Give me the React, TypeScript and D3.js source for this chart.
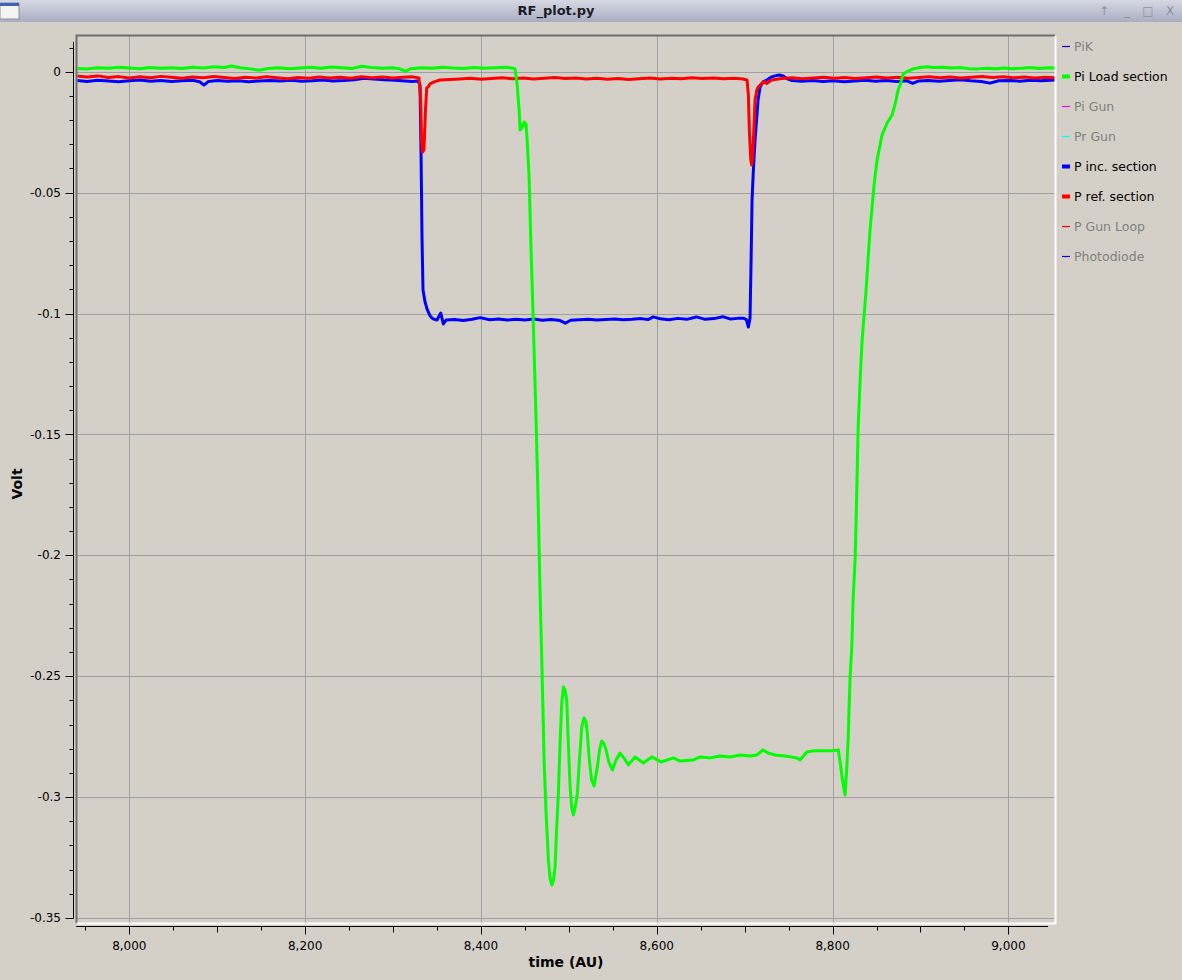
import React from "react";
import * as d3 from "d3";

// ---------- data (time in AU, value in Volt) ----------
const piLoadSection: [number, number][] = [
  [7941, 0.0014], [7952, 0.0012], [7964, 0.0017], [7976, 0.0015], [7988, 0.0019], [8000, 0.0016],
  [8012, 0.0013], [8024, 0.0018], [8036, 0.0015], [8048, 0.0017], [8060, 0.0014], [8072, 0.0019],
  [8084, 0.0016], [8096, 0.0021], [8108, 0.0018], [8116, 0.0024], [8126, 0.0017], [8138, 0.0012],
  [8148, 0.0006], [8158, 0.0014], [8170, 0.0017], [8182, 0.0013], [8194, 0.0016], [8206, 0.0019],
  [8218, 0.0015], [8230, 0.002], [8242, 0.0017], [8254, 0.0014], [8264, 0.0023], [8276, 0.0018],
  [8288, 0.0015], [8300, 0.0017], [8308, 0.0012], [8314, 0.0002], [8320, 0.0013], [8332, 0.0017],
  [8344, 0.0015], [8356, 0.0019], [8368, 0.0016], [8380, 0.0014], [8392, 0.0018], [8404, 0.0015],
  [8416, 0.0017], [8428, 0.0019], [8436, 0.0015],
  [8438.8, 0.0012], [8441.1, -0.005], [8443.4, -0.0158], [8444.5, -0.0241], [8446.8, -0.0232],
  [8449.1, -0.0208], [8451.3, -0.0216], [8452.5, -0.0282], [8454.7, -0.0427], [8457.0, -0.0737],
  [8459.3, -0.1006], [8462.7, -0.144], [8465.0, -0.1771], [8467.2, -0.2144], [8469.2, -0.2433],
  [8471.0, -0.271], [8471.8, -0.2847], [8474.1, -0.3066], [8476.7, -0.326], [8478.6, -0.3335],
  [8480.6, -0.3364], [8482.6, -0.3343], [8484.3, -0.3289], [8486.2, -0.3124], [8488.1, -0.2983],
  [8490.0, -0.2776], [8491.9, -0.2611], [8493.8, -0.2545], [8495.7, -0.2557], [8497.6, -0.2598],
  [8499.4, -0.2776], [8501.4, -0.2958], [8503.3, -0.3045], [8505.1, -0.3074], [8507.1, -0.3045],
  [8509.7, -0.2983], [8512.0, -0.2847], [8514.7, -0.271], [8517.3, -0.2673], [8519.6, -0.269],
  [8521.0, -0.2735], [8523.3, -0.2847], [8525.8, -0.2929], [8528.7, -0.2954], [8532.4, -0.2876],
  [8534.9, -0.2805], [8537.4, -0.2768], [8540.1, -0.278], [8542.3, -0.2805], [8545.7, -0.2859],
  [8549.5, -0.2888], [8553.7, -0.2847], [8558.2, -0.2818], [8562.8, -0.2839], [8567.7, -0.2867],
  [8575.3, -0.2834], [8584.8, -0.2859], [8594.3, -0.2834], [8604.9, -0.2855], [8618.9, -0.2838],
  [8626.5, -0.2851], [8641.3, -0.2847], [8649.3, -0.2834], [8660.6, -0.2838], [8672.0, -0.283],
  [8683.4, -0.2834], [8694.8, -0.2826], [8706.1, -0.283], [8714.1, -0.2826], [8720.9, -0.2805],
  [8726.6, -0.2818], [8734.6, -0.2826], [8746.0, -0.283], [8759.3, -0.2838], [8763.0, -0.2847],
  [8770.7, -0.2814], [8777.8, -0.2809], [8785.8, -0.2809], [8797.2, -0.2809], [8806.6, -0.2805],
  [8809.3, -0.2875], [8811.2, -0.2929], [8814.2, -0.2991], [8816.2, -0.2875], [8818.0, -0.2735],
  [8818.8, -0.2627], [8819.9, -0.2503], [8821.9, -0.2379], [8823.3, -0.2185], [8825.6, -0.2019],
  [8827.3, -0.1771], [8829.0, -0.1482], [8831.3, -0.1275], [8833.6, -0.1109], [8838.1, -0.0903],
  [8842.6, -0.0654], [8847.2, -0.0468], [8850.6, -0.0365], [8856.3, -0.0261], [8862.0, -0.0212],
  [8867.7, -0.0179], [8872.2, -0.0117], [8874.5, -0.0075], [8876.8, -0.0055], [8880.2, -0.0009],
  [8885.9, 0.0003], [8891.6, 0.0012], [8899.5, 0.0018],
  [8907, 0.0021], [8915, 0.0018], [8925, 0.0019], [8935, 0.0016], [8945, 0.0018], [8955, 0.0013],
  [8965, 0.0012], [8975, 0.0015], [8985, 0.0013], [8995, 0.0016], [9005, 0.0013], [9015, 0.0015],
  [9025, 0.0018], [9035, 0.0014], [9045, 0.0017], [9053, 0.0016],
];

const pIncSection: [number, number][] = [
  [7941, -0.0036], [7952, -0.004], [7964, -0.0035], [7976, -0.0038], [7988, -0.0041], [8000, -0.0037],
  [8012, -0.0034], [8024, -0.0039], [8036, -0.0036], [8048, -0.004], [8060, -0.0037], [8072, -0.0035],
  [8080, -0.0041], [8085, -0.0055], [8090, -0.004], [8100, -0.0036], [8112, -0.0039], [8124, -0.0037],
  [8136, -0.0041], [8148, -0.0038], [8160, -0.0036], [8172, -0.0038], [8184, -0.0035], [8196, -0.0039],
  [8208, -0.0037], [8220, -0.0034], [8232, -0.0038], [8244, -0.0036], [8256, -0.0033], [8267, -0.0027],
  [8278, -0.003], [8290, -0.0033], [8302, -0.0035], [8314, -0.0038], [8322, -0.004],
  [8328.4, -0.0038], [8330.7, -0.0055], [8331.8, -0.0324], [8333.0, -0.0696], [8334.1, -0.0903],
  [8336.4, -0.0952], [8338.6, -0.0981], [8342.1, -0.101], [8345.5, -0.1022], [8350.0, -0.1027],
  [8354.3, -0.0998], [8357.2, -0.1043], [8360.3, -0.1027],
  [8370, -0.1025], [8380, -0.1029], [8390, -0.1024], [8399, -0.1017], [8410, -0.1026], [8420, -0.1023],
  [8430, -0.1027], [8440, -0.1024], [8450, -0.1027], [8460, -0.1023], [8470, -0.1028], [8480, -0.1025],
  [8490, -0.1029], [8496, -0.104], [8502, -0.1028], [8512, -0.1026], [8522, -0.1024], [8532, -0.1027],
  [8542, -0.1025], [8552, -0.1023], [8562, -0.1026], [8572, -0.1024], [8582, -0.1021], [8590, -0.1025],
  [8596, -0.1014], [8604, -0.1022], [8614, -0.1026], [8624, -0.102], [8634, -0.1024], [8645, -0.1014],
  [8655, -0.1024], [8665, -0.1021], [8675, -0.1013], [8684, -0.1023], [8692, -0.102], [8698.5, -0.1019],
  [8702, -0.1025], [8704.2, -0.1056], [8706.1, -0.1018], [8707.3, -0.0778], [8708.4, -0.053],
  [8709.9, -0.0406], [8711.8, -0.0282], [8713.8, -0.0187], [8715.2, -0.0117], [8717.5, -0.0063],
  [8720.9, -0.0042], [8725.2, -0.0034], [8730.8, -0.0021], [8734.6, -0.0017], [8739.2, -0.0013],
  [8743.7, -0.0017], [8747.9, -0.0028], [8754.0, -0.0036],
  [8765, -0.0039], [8777, -0.0036], [8789, -0.004], [8801, -0.0037], [8813, -0.0041], [8825, -0.0038],
  [8837, -0.0035], [8849, -0.0039], [8861, -0.0036], [8873, -0.004], [8884, -0.0037], [8891, -0.0048],
  [8898, -0.0038], [8909, -0.0036], [8921, -0.0039], [8933, -0.0036], [8945, -0.0033], [8957, -0.0037],
  [8969, -0.004], [8979, -0.0047], [8989, -0.0037], [9001, -0.0036], [9013, -0.0039], [9025, -0.0035],
  [9037, -0.0037], [9053, -0.0034],
];

const pRefSection: [number, number][] = [
  [7941, -0.0018], [7952, -0.0022], [7964, -0.0017], [7976, -0.0024], [7988, -0.002], [8000, -0.0026],
  [8012, -0.0021], [8024, -0.0025], [8036, -0.0019], [8048, -0.0023], [8060, -0.0027], [8072, -0.0022],
  [8084, -0.0025], [8096, -0.002], [8108, -0.0024], [8120, -0.0028], [8132, -0.0023], [8144, -0.0026],
  [8156, -0.0021], [8168, -0.0025], [8180, -0.0029], [8192, -0.0024], [8204, -0.0027], [8216, -0.0022],
  [8228, -0.0026], [8240, -0.0023], [8252, -0.0027], [8264, -0.0021], [8276, -0.0025], [8288, -0.0022],
  [8300, -0.0026], [8312, -0.0023], [8322, -0.0021], [8329.5, -0.0026],
  [8331.5, -0.0117], [8332.4, -0.0282], [8333.5, -0.0332], [8335.2, -0.0323], [8336.9, -0.0158],
  [8338.3, -0.0067], [8340.1, -0.0062], [8342.1, -0.005], [8346.6, -0.0042], [8353.4, -0.0034],
  [8364.8, -0.0032],
  [8376, -0.003], [8388, -0.0027], [8400, -0.0031], [8412, -0.0028], [8424, -0.0025], [8436, -0.0029],
  [8448, -0.0026], [8460, -0.003], [8472, -0.0027], [8484, -0.0024], [8496, -0.0028], [8508, -0.0026],
  [8520, -0.003], [8532, -0.0027], [8544, -0.0031], [8556, -0.0028], [8568, -0.0032], [8580, -0.0029],
  [8592, -0.0026], [8604, -0.003], [8616, -0.0027], [8628, -0.0029], [8640, -0.0025], [8652, -0.0028],
  [8664, -0.0026], [8676, -0.0029], [8688, -0.0027], [8698, -0.003], [8702.7, -0.0034],
  [8704.2, -0.0096], [8705.3, -0.0241], [8706.9, -0.0365], [8708.0, -0.0385], [8709.2, -0.0344],
  [8709.9, -0.0282], [8711.8, -0.0117], [8713.8, -0.0075], [8715.6, -0.0062], [8721.3, -0.0041],
  [8725, -0.0048], [8730.8, -0.0034],
  [8742, -0.0028], [8754, -0.0025], [8766, -0.0029], [8778, -0.0026], [8790, -0.0023], [8802, -0.0027],
  [8814, -0.0024], [8826, -0.0028], [8838, -0.0025], [8850, -0.0022], [8862, -0.0026], [8874, -0.0023],
  [8886, -0.0027], [8898, -0.0024], [8910, -0.0021], [8922, -0.0025], [8934, -0.0022], [8946, -0.0026],
  [8958, -0.0023], [8970, -0.002], [8982, -0.0024], [8994, -0.0021], [9006, -0.0025], [9018, -0.0022],
  [9030, -0.0026], [9042, -0.0023], [9053, -0.0025],
];

const legendNames = ["PiK", "Pi Load section", "Pi Gun", "Pr Gun", "P inc. section", "P ref. section", "P Gun Loop", "Photodiode"];
const legendColors = ["#0000ff", "#00ff00", "#ff00ff", "#00ffff", "#0000ff", "#ff0000", "#ff0000", "#0000ff"];
const legendActive = [false, true, false, false, true, true, false, false];

const xMajorTicks = [8000, 8200, 8400, 8600, 8800, 9000];
const yMajorTicks = [0, -0.05, -0.1, -0.15, -0.2, -0.25, -0.3, -0.35];

const xDomain: [number, number] = [7940.5, 9053];
const yDomain: [number, number] = [-0.3521, 0.0148];

const W = 1182;
const H = 980;
const BG = "#d4d0c8";
const GRID = "#a0a0a4";
const FONT = "'DejaVu Sans', sans-serif";

export default function App() {
  const left = 77, right = 1055, top = 36, bottom = 923;
  const x = d3.scaleLinear().domain(xDomain).range([left, right]);
  const y = d3.scaleLinear().domain(yDomain).range([bottom, top]);
  const line = d3.line<[number, number]>().x((d) => x(d[0])).y((d) => y(d[1]));

  const xMinor = d3.range(7950, 9050, 50);
  const yMinor = d3.range(-35, 2, 1).map((v) => v / 100);
  const fmtX = d3.format(",");
  const fmtY = (v: number) => (v === 0 ? "0" : String(+v.toFixed(2)));

  const axisX = 73.5;
  const axisY = 926.5;

  return (
    <svg width={W} height={H} style={{ position: "absolute", left: 0, top: 0 }} fontFamily={FONT}>
      <defs>
        <linearGradient id="tb" x1="0" y1="0" x2="0" y2="1">
          <stop offset="0" stopColor="#d6d8e2" />
          <stop offset="1" stopColor="#a9aec3" />
        </linearGradient>
        <clipPath id="cv">
          <rect x={left} y={top} width={right - left} height={bottom - top} />
        </clipPath>
      </defs>
      <rect x={0} y={0} width={W} height={H} fill={BG} />
      {/* window title bar */}
      <rect x={0} y={0} width={W} height={22} fill="url(#tb)" />
      <rect x={0} y={3} width={19} height={16} fill="#f4f4f4" stroke="#8a8f9f" />
      <rect x={0} y={3} width={19} height={3} fill="#3c64b4" />
      <text x={556} y={15} textAnchor="middle" fontSize={13} fontWeight="bold" fill="#1c1c24">RF_plot.py</text>
      <g fill="#8c90a0" fontSize={12}>
        <text x={1104} y={15} textAnchor="middle">↑</text>
        <text x={1127} y={15} textAnchor="middle">_</text>
        <text x={1148} y={15} textAnchor="middle">□</text>
        <text x={1170} y={15} textAnchor="middle">X</text>
      </g>

      {/* grid */}
      <g clipPath="url(#cv)" stroke={GRID} strokeWidth={1}>
        {xMajorTicks.map((t) => (
          <line key={"gx" + t} x1={Math.round(x(t)) + 0.5} x2={Math.round(x(t)) + 0.5} y1={top} y2={bottom} />
        ))}
        {yMajorTicks.map((t) => (
          <line key={"gy" + t} y1={Math.round(y(t)) + 0.5} y2={Math.round(y(t)) + 0.5} x1={left} x2={right} />
        ))}
      </g>

      {/* curves */}
      <g clipPath="url(#cv)" fill="none" strokeWidth={3} strokeLinejoin="round">
        <path d={line(pIncSection) || ""} stroke="#0000ff" />
        <path d={line(pRefSection) || ""} stroke="#ff0000" />
        <path d={line(piLoadSection) || ""} stroke="#00ff00" />
      </g>

      {/* canvas frame */}
      <path d={`M${left - 0.5},${bottom} V${top - 0.5} H${right}`} fill="none" stroke="#6e6e6e" strokeWidth={2} />
      <path d={`M${left},${bottom + 0.5} H${right + 0.5} V${top}`} fill="none" stroke="#ffffff" strokeWidth={2} />

      {/* y axis */}
      <g stroke="#000" strokeWidth={1}>
        <line x1={axisX} x2={axisX} y1={42} y2={Math.round(y(-0.35)) + 0.5} />
        {yMinor.map((t) => {
          const yy = Math.round(y(t)) + 0.5;
          const major = yMajorTicks.some((m) => Math.abs(m - t) < 1e-9);
          return <line key={"yt" + t} x1={axisX - (major ? 8 : 4)} x2={axisX} y1={yy} y2={yy} />;
        })}
      </g>
      <g fontSize={12} fill="#000" textAnchor="end">
        {yMajorTicks.map((t) => (
          <text key={"yl" + t} x={61} y={y(t)} dy="0.35em">{fmtY(t)}</text>
        ))}
      </g>

      {/* x axis */}
      <g stroke="#000" strokeWidth={1}>
        <line x1={76} x2={1048} y1={axisY} y2={axisY} />
        {xMinor.map((t) => {
          const xx = Math.round(x(t)) + 0.5;
          const len = t % 200 === 0 ? 8 : t % 100 === 0 ? 6 : 4;
          return <line key={"xt" + t} x1={xx} x2={xx} y1={axisY} y2={axisY + len} />;
        })}
      </g>
      <g fontSize={12} fill="#000" textAnchor="middle">
        {xMajorTicks.map((t) => (
          <text key={"xl" + t} x={x(t)} y={946} dy="0.35em">{fmtX(t)}</text>
        ))}
      </g>

      {/* axis titles */}
      <text x={566} y={962} dy="0.35em" textAnchor="middle" fontSize={14} fontWeight="bold">time (AU)</text>
      <text transform="translate(17,484) rotate(-90)" dy="0.35em" textAnchor="middle" fontSize={14} fontWeight="bold">Volt</text>

      {/* legend */}
      <g fontSize={12.5}>
        {legendNames.map((n, i) => {
          const yy = 46.5 + i * 30;
          return (
            <g key={n}>
              <line x1={1062} x2={1070} y1={yy} y2={yy} stroke={legendColors[i]} strokeWidth={legendActive[i] ? 4 : 1.2} />
              <text x={1074} y={yy} dy="0.35em" fill={legendActive[i] ? "#000" : "#808080"}>{n}</text>
            </g>
          );
        })}
      </g>
    </svg>
  );
}
